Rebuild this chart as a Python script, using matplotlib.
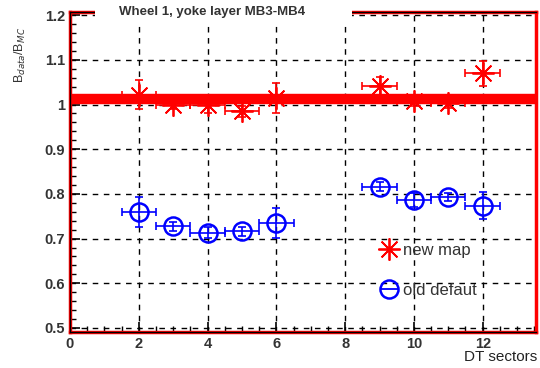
import matplotlib
matplotlib.use("Agg")
import matplotlib.pyplot as plt
from matplotlib.lines import Line2D
from matplotlib.patches import Rectangle
from matplotlib.ticker import MultipleLocator

plt.rcParams['font.family'] = ['Liberation Sans', 'DejaVu Sans']

sectors_new = [2, 3, 4, 5, 6, 9, 10, 11, 12]
ratio_new = [1.022, 1.000, 1.000, 0.985, 1.015, 1.041, 1.007, 1.003, 1.070]
yerr_new = [0.033, 0.010, 0.020, 0.012, 0.033, 0.020, 0.010, 0.010, 0.028]

sectors_old = [2, 3, 4, 5, 6, 9, 10, 11, 12]
ratio_old = [0.760, 0.728, 0.713, 0.716, 0.735, 0.816, 0.786, 0.793, 0.774]
yerr_old = [0.033, 0.010, 0.012, 0.010, 0.033, 0.010, 0.015, 0.008, 0.030]

xerr = [0.5] * 9
fit_level = 1.012

title = "Wheel 1, yoke layer MB3-MB4"
xlabel = "DT sectors"
ylabel = r"B$_{data}$/B$_{MC}$"
labels = ["new map", "old defaut"]

W, H = 540, 368
fig = plt.figure(figsize=(5.4, 3.68), dpi=100)
x0, x1, y0, y1 = 70, 536, 332, 12
ax = fig.add_axes([x0 / W, 1 - y0 / H, (x1 - x0) / W, (y0 - y1) / H])
ax.set_xlim(0, 13.55)
ax.set_ylim(0.491, 1.207)

ax.axhline(fit_level, color='red', lw=7.5, zorder=2)

ax.errorbar(sectors_new, ratio_new, xerr=xerr, yerr=yerr_new, fmt='none',
            ecolor='red', elinewidth=1.2, capsize=3, capthick=1.2, zorder=3)
ax.plot(sectors_new, ratio_new, linestyle='none', marker=(8, 2, 0),
        markersize=16, color='red', markeredgewidth=1.3, zorder=4)

ax.errorbar(sectors_old, ratio_old, xerr=xerr, yerr=yerr_old, fmt='none',
            ecolor='blue', elinewidth=1.2, capsize=3, capthick=1.2, zorder=3)
ax.plot(sectors_old, ratio_old, linestyle='none', marker='o', markersize=13,
        mfc='none', mec='blue', markeredgewidth=1.8, zorder=4)

ax.xaxis.set_major_locator(MultipleLocator(2))
ax.xaxis.set_minor_locator(MultipleLocator(0.5))
ax.yaxis.set_minor_locator(MultipleLocator(0.02))
ax.set_yticks([0.5, 0.6, 0.7, 0.8, 0.9, 1.0, 1.1, 1.2])
ax.set_yticklabels(["0.5", "0.6", "0.7", "0.8", "0.9", "1", "1.1", "1.2"])
ax.grid(True, which='major', color='black', linestyle=(0, (4, 4)), lw=1.0)
ax.tick_params(which='both', direction='in', colors='black', labelcolor='#333333',
               labelsize=10.5)
ax.tick_params(which='major', length=7, width=1.2)
ax.tick_params(which='minor', length=4, width=1.0)
for lab in ax.get_xticklabels() + ax.get_yticklabels():
    lab.set_fontweight('bold')

for side in ['left', 'bottom', 'right', 'top']:
    ax.spines[side].set_color('red')
    ax.spines[side].set_linewidth(2.5)
for xs, ys in [([0, 0], [0, 1]), ([0, 1], [0, 0]), ([0, 1], [1, 1])]:
    ax.plot(xs, ys, color='black', lw=1.0, transform=ax.transAxes,
            clip_on=False, zorder=5)

# title pave covering part of the top frame
fig.patches.append(Rectangle((95 / W, 1 - 22 / H), (352 - 95) / W, 22 / H,
                             transform=fig.transFigure, facecolor='white',
                             edgecolor='none', zorder=10))
fig.text(212 / W, 1 - 12 / H, title, ha='center', va='center', fontsize=9.5,
         fontweight='bold', color='#333333', zorder=11)
fig.text(537 / W, 1 - 357 / H, xlabel, ha='right', va='center', fontsize=11,
         color='#222222')
fig.text(20 / W, 1 - 55 / H, ylabel, ha='center', va='center', rotation=90,
         fontsize=9, color='#333333')

handles = [
    Line2D([], [], linestyle='none', marker=(8, 2, 0), markersize=16,
           color='red', markeredgewidth=1.3),
    Line2D([], [], linestyle='-', marker='o', markersize=13, mfc='none',
           mec='blue', color='blue', lw=1.3, markeredgewidth=1.8),
]
ax.legend(handles, labels, loc='upper left', bbox_to_anchor=(0.635, 0.325),
          frameon=False, fontsize=12, handlelength=1.0, handletextpad=0.3,
          labelspacing=1.5, labelcolor='#333333')

fig.savefig("out.png", dpi=100)
